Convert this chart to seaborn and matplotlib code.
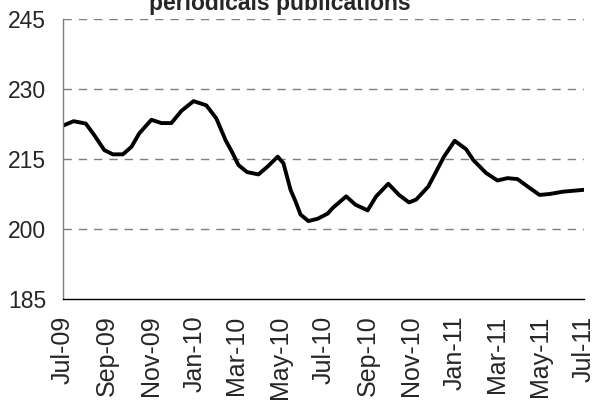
import pandas as pd
import matplotlib
matplotlib.use("Agg")
import matplotlib.pyplot as plt
import matplotlib.dates as mdates
import seaborn as sns

# values
dates = [
    "2009-07-02", "2009-07-16", "2009-08-02", "2009-08-14", "2009-08-28",
    "2009-09-09", "2009-09-23", "2009-10-05", "2009-10-16", "2009-11-02",
    "2009-11-16", "2009-11-30", "2009-12-14", "2009-12-31", "2010-01-18",
    "2010-02-01", "2010-02-14", "2010-02-23", "2010-03-04", "2010-03-16",
    "2010-04-01", "2010-04-14", "2010-04-28", "2010-05-06", "2010-05-16",
    "2010-05-23", "2010-05-30", "2010-06-10", "2010-06-23", "2010-07-07",
    "2010-07-14", "2010-08-02", "2010-08-15", "2010-09-01", "2010-09-13",
    "2010-09-30", "2010-10-15", "2010-10-29", "2010-11-08", "2010-11-25",
    "2010-12-05", "2010-12-17", "2011-01-01", "2011-01-17", "2011-01-27",
    "2011-02-14", "2011-03-02", "2011-03-16", "2011-03-30", "2011-04-16",
    "2011-04-30", "2011-05-14", "2011-06-02", "2011-07-01",
]
values = [
    222.2, 223.1, 222.6, 220.1, 216.9,
    216.0, 216.0, 217.6, 220.5, 223.4,
    222.7, 222.7, 225.3, 227.4, 226.5,
    223.7, 219.0, 216.5, 213.7, 212.2,
    211.7, 213.4, 215.5, 214.1, 208.4,
    205.9, 203.1, 201.7, 202.2, 203.3,
    204.5, 207.0, 205.2, 204.0, 207.0,
    209.7, 207.3, 205.7, 206.3, 209.1,
    212.0, 215.5, 218.9, 217.1, 214.8,
    212.0, 210.4, 210.9, 210.7, 208.8,
    207.3, 207.5, 208.0, 208.4,
]
y_ticks = [185, 200, 215, 230, 245]
title = "periodicals publications"

df = pd.DataFrame({"date": pd.to_datetime(dates), "value": values})

sns.set_style("white")
plt.rcParams["font.family"] = ["Liberation Sans", "DejaVu Sans"]

fig = plt.figure(figsize=(6.05, 4.13), dpi=100)
ax = fig.add_axes([0.104, 0.276, 0.861, 0.678])

sns.lineplot(data=df, x="date", y="value", color="black", linewidth=2.8, ax=ax)

ax.set_xlim(pd.Timestamp("2009-07-01"), pd.Timestamp("2011-07-01"))
ax.set_ylim(185, 245)
ax.set_yticks(y_ticks)
ax.xaxis.set_major_locator(mdates.MonthLocator(bymonth=[1, 3, 5, 7, 9, 11]))
ax.xaxis.set_major_formatter(mdates.DateFormatter("%b-%y"))
ax.tick_params(axis="x", labelsize=18, rotation=90, length=0, pad=12)
ax.tick_params(axis="y", labelsize=16.5, length=0, pad=12)
ax.set_xlabel("")
ax.set_ylabel("")

for v in y_ticks[1:]:
    ax.axhline(v, color="#7f7f7f", linewidth=1, linestyle=(0, (6, 5)), zorder=0)

for side in ["top", "right"]:
    ax.spines[side].set_visible(False)
ax.spines["left"].set_color("#7f7f7f")
ax.spines["left"].set_linewidth(1)
ax.spines["bottom"].set_color("black")
ax.spines["bottom"].set_linewidth(1)

# the reference title runs off the top edge of the picture
fig.text(0.463, 0.976, title, ha="center", va="baseline",
         fontsize=16.5, fontweight="bold")

fig.savefig("out.png", dpi=100)
